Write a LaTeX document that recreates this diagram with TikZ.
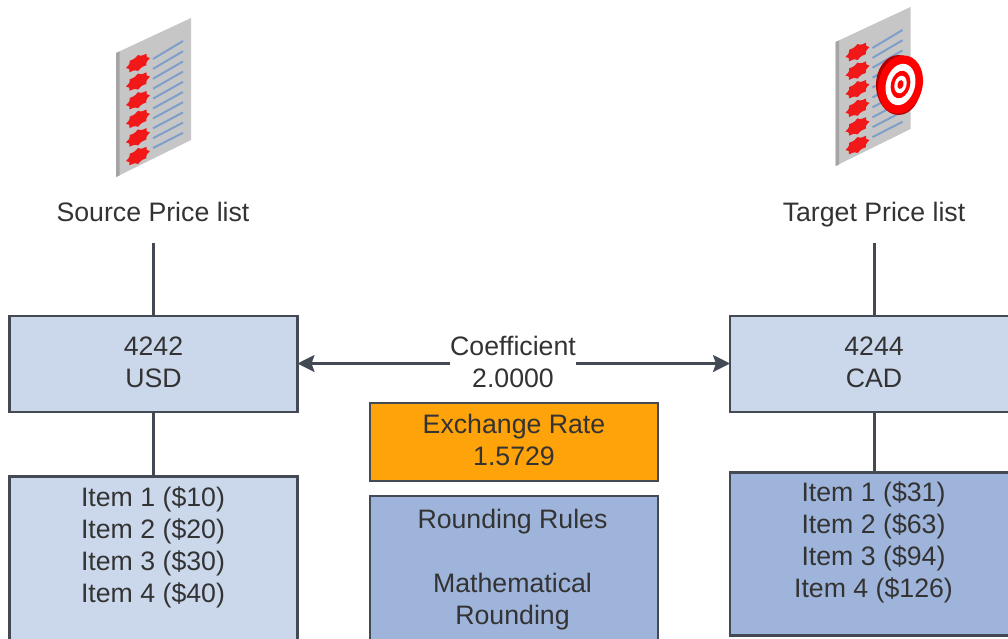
\documentclass[tikz,border=0pt]{standalone}
\usepackage{fontspec}
\setmainfont{Liberation Sans}
\usetikzlibrary{arrows.meta}
\definecolor{ink}{HTML}{333333}
\definecolor{edge}{HTML}{434A54}
\definecolor{lightblue}{HTML}{CBD8EC}
\definecolor{midblue}{HTML}{9FB4DA}
\definecolor{amber}{HTML}{FFA30B}
\definecolor{sheet}{HTML}{C6C6C6}
\definecolor{sheetedge}{HTML}{A4A4A4}
\definecolor{rule}{HTML}{7F9FCB}
\definecolor{bullet}{HTML}{F01818}
\newcommand{\blotch}[2]{\fill[bullet] plot[smooth cycle,domain=0:345,samples=24,variable=\t]
  ({#1+(10.5*cos(\t))*(1+.14*cos(8*\t))},{#2+(7*sin(\t))*(1+.14*cos(8*\t))-.42*(10.5*cos(\t))*(1+.14*cos(8*\t))});}
\newcommand{\docicon}[2]{% x offset, y offset; geometry of the left icon
  \begin{scope}[shift={(#1,#2)}]
    \fill[sheet] (116,53) -- (191,18) -- (191,140) -- (116,177) -- cycle;
    \fill[sheetedge] (116,53) -- (119.5,51.5) -- (119.5,175.5) -- (116,177) -- cycle;
    \foreach \i in {0,...,5}{\blotch{138}{63+18.6*\i}}
    \foreach \i in {0,...,9}{\draw[rule,line width=2] (153,59+9.9*\i) -- (183,41+10.2*\i);}
  \end{scope}}
\newcommand{\twolines}[2]{\raisebox{-1pt}[\height][\depth]{\begin{tabular}{@{}c@{}}#1\\#2\end{tabular}}}
\tikzset{
  every node/.style={font=\fontsize{26.7}{32}\selectfont,text=ink,align=center,outer sep=0},
  pricebox/.style={draw=edge,line width=2.8,anchor=north west,minimum width=#1,inner sep=0},
  toptext/.style={anchor=north,inner sep=0},
  wire/.style={draw=edge,line width=2.6},
  dblarrow/.style={wire,-{Stealth[length=17,width=17,inset=3]}},
}
\begin{document}
\begin{tikzpicture}[x=1pt,y=-1pt]
\useasboundingbox (0,0) rectangle (1008,638);
\begin{scope}
\clip (0,0) rectangle (1008,638);
\docicon{0}{0}
\docicon{719.5}{-11}
% target
\fill[red!70!black] (898.5,85) ellipse [x radius=22.5,y radius=30];
\begin{scope}[shift={(900.5,84.5)},rotate=-14]
 \fill[red] (0,0) ellipse [x radius=22,y radius=29.5];
 \fill[white] (0,0) ellipse [x radius=14.5,y radius=21];
 \fill[red] (0,0) ellipse [x radius=9.5,y radius=14];
 \fill[white] (0,0) ellipse [x radius=6,y radius=9];
 \fill[red] (0,0) ellipse [x radius=3,y radius=4.5];
\end{scope}

\node[inner sep=0] (srclabel) at (153,212) {Source Price list};
\node[inner sep=0] (tgtlabel) at (874,215) {Target Price list};
\coordinate (srcfoot) at (153.5,243);
\coordinate (tgtfoot) at (874.5,243);

\node[pricebox=288,fill=lightblue,minimum height=96] (srccur) at (9.5,316) {\twolines{4242}{USD}};
\node[pricebox=288,fill=lightblue,minimum height=96] (tgtcur) at (730,316) {\twolines{4244}{CAD}};
\node[pricebox=288,fill=lightblue,minimum height=180] (srcitems) at (9.5,476.5) {};
\node[toptext] (srcitemstext) at (153,487) {Item 1 (\$10)\\Item 2 (\$20)\\Item 3 (\$30)\\Item 4 (\$40)};
\node[pricebox=288,fill=midblue,minimum height=163] (tgtitems) at (730,472.5) {};
\node[toptext] (tgtitemstext) at (873.5,481.5) {Item 1 (\$31)\\Item 2 (\$63)\\Item 3 (\$94)\\Item 4 (\$126)};
\node[pricebox=288,fill=amber,minimum height=78] (rate) at (370,403) {\twolines{Exchange Rate}{1.5729}};
\node[pricebox=288,fill=midblue,minimum height=170] (rules) at (370,496) {};
\node[toptext] (rulestext) at (512.5,509.5) {Rounding Rules\\[32pt]Mathematical\\Rounding};
\node[inner sep=0] (coef) at (513,362) {Coefficient\\2.0000};

\draw[wire] (srcfoot) -- (srccur.north -| srcfoot);
\draw[wire] (tgtfoot) -- (tgtcur.north -| tgtfoot);
\draw[wire] (srccur.south -| srcfoot) -- (srcitems.north -| srcfoot);
\draw[wire] (tgtcur.south -| tgtfoot) -- (tgtitems.north -| tgtfoot);
\draw[dblarrow] (coef.west |- 0,363.5) -- (srccur.east |- 0,363.5);
\draw[dblarrow] (coef.east |- 0,363.5) -- (tgtcur.west |- 0,363.5);
\end{scope}
\end{tikzpicture}
\end{document}
